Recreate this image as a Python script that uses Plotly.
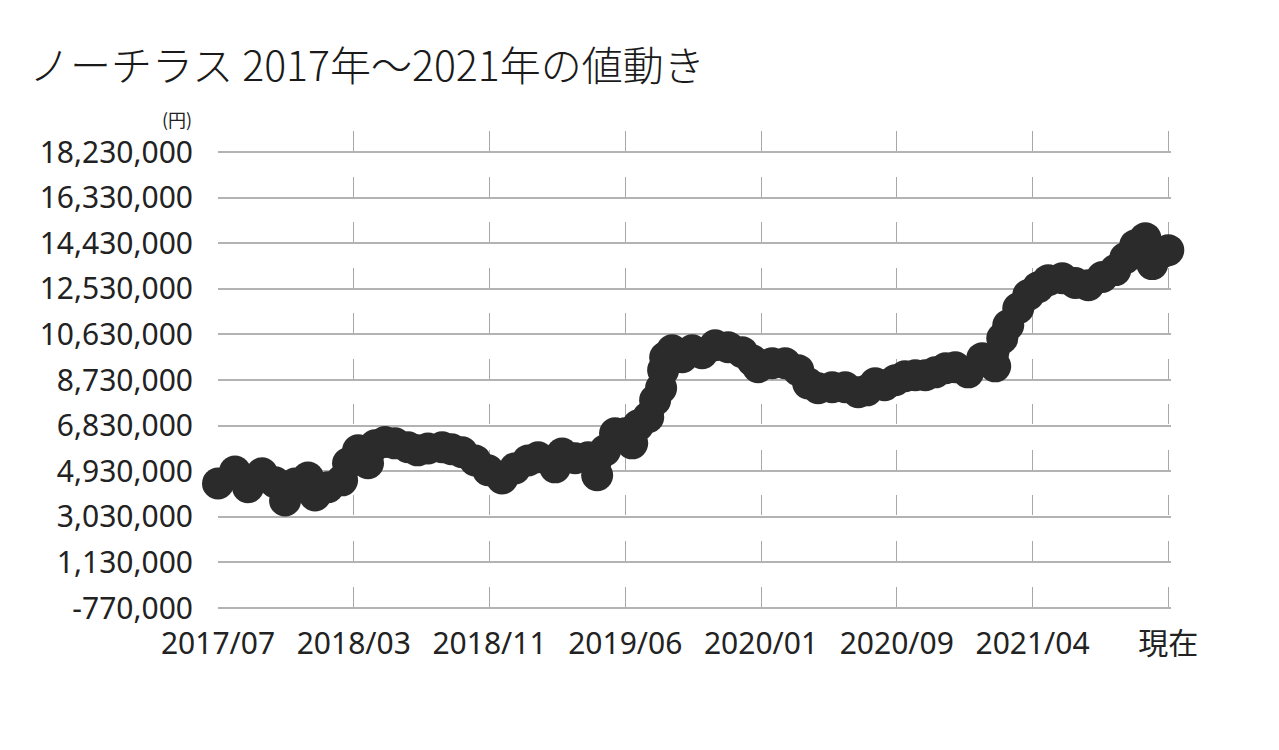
import plotly.graph_objects as go

# ---- data ----
title_text = "ノーチラス 2017年～2021年の値動き"
unit_label = "(円)"
x_labels = ["2017/07", "2018/03", "2018/11", "2019/06", "2020/01", "2020/09", "2021/04", "現在"]
y_ticks = [-770000, 1130000, 3030000, 4930000, 6830000, 8730000, 10630000, 12530000, 14430000, 16330000, 18230000]

# position along the time axis (0 = 2017/07 ... 7 = 現在)
pos = [0.0, 0.125, 0.221, 0.324, 0.42, 0.494, 0.567, 0.663, 0.715, 0.811, 0.914, 0.958,
       1.032, 1.105, 1.157, 1.23, 1.304, 1.40, 1.47, 1.547, 1.651, 1.72, 1.798, 1.894, 1.99,
       2.093, 2.188, 2.284, 2.358, 2.483, 2.535, 2.631, 2.726, 2.793, 2.852, 2.925, 2.999,
       3.051, 3.095, 3.169, 3.22, 3.264, 3.279, 3.294, 3.345, 3.419, 3.493, 3.566, 3.662,
       3.758, 3.861, 3.935, 3.979, 4.082, 4.178, 4.274, 4.347, 4.421, 4.524, 4.62, 4.716,
       4.78, 4.841, 4.91, 4.989, 5.06, 5.136, 5.21, 5.283, 5.36, 5.431, 5.526, 5.63, 5.725,
       5.777, 5.821, 5.895, 5.969, 6.042, 6.116, 6.219, 6.315, 6.411, 6.514, 6.61, 6.683,
       6.757, 6.831, 6.882, 6.956, 7.0]
price = [4420000, 4920000, 4260000, 4840000, 4470000, 3710000, 4420000, 4670000, 3920000,
         4260000, 4550000, 5260000, 5800000, 5260000, 6010000, 6150000, 6090000, 5930000,
         5800000, 5880000, 5930000, 5850000, 5720000, 5380000, 4970000, 4630000, 5050000,
         5380000, 5510000, 5090000, 5670000, 5470000, 5510000, 4760000, 5800000, 6510000,
         6510000, 6090000, 6840000, 7180000, 7890000, 8390000, 9140000, 9680000, 9970000,
         9680000, 9970000, 9850000, 10180000, 10100000, 9890000, 9550000, 9260000, 9430000,
         9430000, 9140000, 8590000, 8390000, 8430000, 8430000, 8220000, 8300000, 8590000,
         8510000, 8720000, 8890000, 8930000, 8930000, 9050000, 9220000, 9260000, 9050000,
         9640000, 9300000, 10470000, 11010000, 11720000, 12270000, 12600000, 12890000,
         12970000, 12770000, 12680000, 13020000, 13310000, 13810000, 14350000, 14640000,
         13560000, 14060000, 14140000]

ink = "#2b2b2b"
tick_font = dict(family="Noto Sans, Noto Sans CJK JP, sans-serif", size=30, color="#222222")

fig = go.Figure()
fig.add_trace(go.Scatter(
    x=pos, y=price, mode="lines+markers",
    line=dict(color=ink, width=20, shape="spline", smoothing=0.6),
    marker=dict(color=ink, size=32, line=dict(width=0)),
    cliponaxis=False, hoverinfo="skip", showlegend=False,
))

step_px = 45.55
fig.update_layout(
    width=1279, height=750,
    margin=dict(l=210, r=116, t=123, b=148, autoexpand=False),
    paper_bgcolor="white", plot_bgcolor="white",
    title=dict(text=title_text, xref="container", x=21 / 1279, xanchor="left",
               yref="container", y=1 - 59 / 750, yanchor="middle",
               font=dict(family="Noto Sans CJK JP, sans-serif", size=41, weight=300, color="#1a1a1a")),
    xaxis=dict(
        automargin=False,
        range=[0, 7.02], tickmode="array", tickvals=list(range(len(x_labels))), ticktext=x_labels,
        showgrid=False, zeroline=False, showline=False, ticks="",
        tickfont=tick_font, ticklabelstandoff=13,
        minor=dict(tickmode="array", tickvals=list(range(1, len(x_labels))), showgrid=True,
                   gridcolor="#a8a8a8", gridwidth=1, griddash=f"20px,{step_px - 20:.2f}px", ticks=""),
    ),
    yaxis=dict(
        automargin=False,
        range=[-853424, 19105950], tickmode="array", tickvals=y_ticks,
        ticktext=[f"{v:,}" for v in y_ticks],
        showgrid=True, gridcolor="#b3b3b3", gridwidth=1.5, zeroline=False, showline=False,
        ticks="", tickfont=tick_font, ticklabelstandoff=24,
    ),
    annotations=[dict(text=unit_label, xref="paper", yref="paper",
                      x=(194 - 218) / 952.7, y=(610 - 119) / 479, xanchor="right", yanchor="middle",
                      showarrow=False,
                      font=dict(family="Noto Sans CJK JP, sans-serif", size=18, color="#222222"))],
)

fig.write_html("out.html")
